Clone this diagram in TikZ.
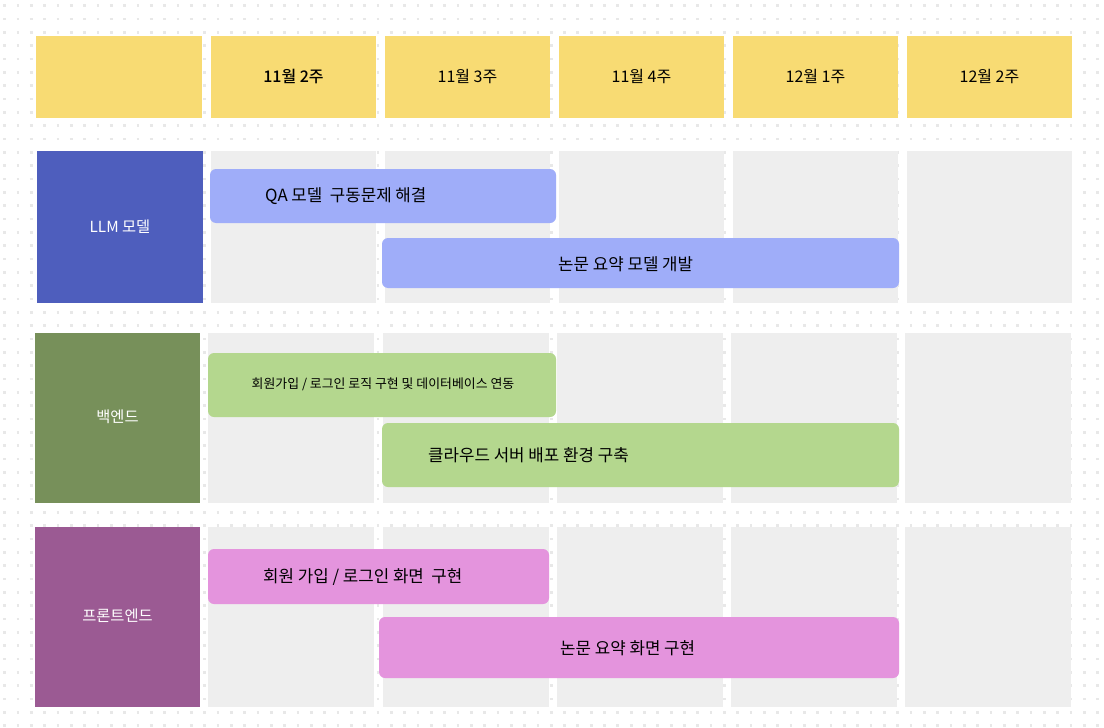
\documentclass[tikz,border=0pt]{standalone}
\usepackage{fontspec}
\setmainfont{Noto Sans CJK KR}[BoldFont={Noto Sans CJK KR Medium}]
\definecolor{dotgray}{HTML}{E8E8E8}
\definecolor{cellgray}{HTML}{EEEEEE}
\definecolor{hdr}{HTML}{F8DB73}
\definecolor{llmc}{HTML}{4E5EBD}
\definecolor{bec}{HTML}{77905A}
\definecolor{fec}{HTML}{9B5A93}
\definecolor{llmbar}{HTML}{9FADF9}
\definecolor{bebar}{HTML}{B4D78E}
\definecolor{febar}{HTML}{E494DD}
\begin{document}
\begin{tikzpicture}[x=1pt,y=-1pt,
    hd/.style={font=\fontsize{16}{19}\selectfont,inner sep=0pt},
    lab/.style={font=\fontsize{15.3}{18}\selectfont,text=white,inner sep=0pt},
    bt/.style={font=\fontsize{16.8}{20}\selectfont,inner sep=0pt},
    bar/.style={rounded corners=6pt}]
    \useasboundingbox[fill=white] (0,0) rectangle (1104,728);
    % dot grid
    \foreach \j in {0,...,54}
        \draw[dotgray,line width=2.7pt,dash pattern=on 2.7pt off 10.63pt] (3.3,5.8+13.33*\j) -- (1104,5.8+13.33*\j);
    % header
    \fill[hdr] (36,36) rectangle (202,118);
    \foreach \x/\t [count=\i] in {211/11월 2주,385/11월 3주,559/11월 4주,733/12월 1주,907/12월 2주}{
        \fill[hdr] (\x,36) rectangle ++(165,82);
        \node[hd] (wk\i) at (\x+82.5,77) {\ifnum\i=1 \bfseries\fi\t};}
    % week cells
    \foreach \x in {211,385,559,733,907} \fill[cellgray] (\x,151) rectangle ++(165,152);
    \foreach \x in {208,383,557,731,905}{\fill[cellgray] (\x,333) rectangle ++(166,170);
        \fill[cellgray] (\x,527) rectangle ++(166,180);}
    % LLM
    \fill[llmc] (37,151) rectangle (203,303);\node[lab] (llm) at (120,227) {LLM 모델};
    \fill[llmbar,bar] (210,169) rectangle (556,223);
    \node[bt,anchor=west] (qa) at (265,196) {QA 모델\ \ 구동문제 해결};
    \fill[llmbar,bar] (382,238) rectangle (899,288);
    \node[bt,anchor=west] (summ) at (558,264) {논문 요약 모델 개발};
    % backend
    \fill[bec] (35,333) rectangle (200,503);\node[lab] (be) at (117.5,417) {백엔드};
    \fill[bebar,bar] (208,353) rectangle (556,417);
    \node[bt,font=\fontsize{12.9}{15}\selectfont] (login) at (383,384) {회원가입 / 로그인 로직 구현 및 데이터베이스 연동};
    \fill[bebar,bar] (382,423) rectangle (899,487);
    \node[bt,anchor=west] (cloud) at (428,455) {클라우드 서버 배포 환경 구축};
    % frontend
    \fill[fec] (35,527) rectangle (200,707);\node[lab] (fe) at (117.5,616) {프론트엔드};
    \fill[febar,bar] (208,549) rectangle (549,604);
    \node[bt,anchor=west] (loginui) at (263,577) {회원 가입 / 로그인 화면\ \ 구현};
    \fill[febar,bar] (379,617) rectangle (899,678);
    \node[bt,anchor=west] (summui) at (560,648) {논문 요약 화면 구현};
\end{tikzpicture}
\end{document}
